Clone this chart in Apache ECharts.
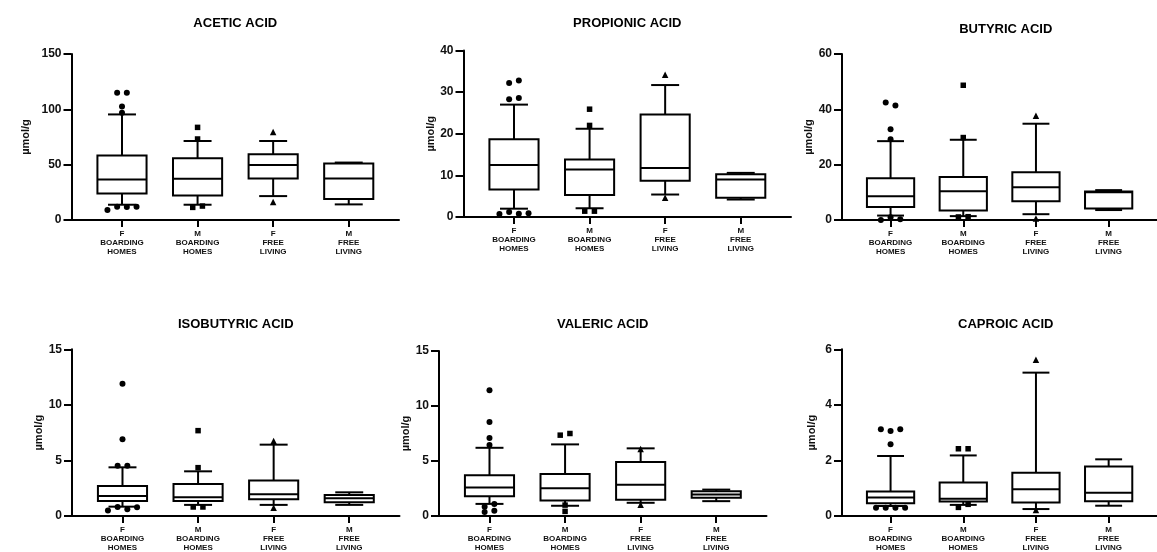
<!DOCTYPE html>
<html><head><meta charset="utf-8">
<script src="https://cdn.jsdelivr.net/npm/echarts@6/dist/echarts.min.js"></script>
<style>html,body{margin:0;padding:0;background:#fff}#c{width:1157px;height:552px}</style>
</head><body><div id="c"></div>
<script>
// ---------- DATA ----------
const categories = ['F\nBOARDING\nHOMES', 'M\nBOARDING\nHOMES', 'F\nFREE\nLIVING', 'M\nFREE\nLIVING'];
const panelTitles = ['ACETIC ACID', 'PROPIONIC ACID', 'BUTYRIC ACID', 'ISOBUTYRIC ACID', 'VALERIC ACID', 'CAPROIC ACID'];
const yAxisMax = [150, 40, 60, 15, 15, 6];
const yAxisInterval = [50, 10, 20, 5, 5, 2];
const yAxisName = 'µmol/g';

// box summaries per group: [min whisker, Q1, median, Q3, max whisker]
const aceticBoxes = [[13.8, 24, 36.6, 58.2, 95.4], [13.8, 22.2, 37.2, 55.8, 71.4], [21.6, 37.5, 49.8, 59.4, 71.4], [14.1, 18.9, 37.5, 51, 51.9]];
const aceticOutliers = [[115, 115, 102.6, 96.8, 9, 12, 11.8, 12], [83.7, 73.2, 11.4, 12.6], [79.5, 16.2], []];

const propionicBoxes = [[2, 6.6, 12.5, 18.7, 27], [2.1, 5.3, 11.4, 13.8, 21.2], [5.4, 8.7, 11.8, 24.6, 31.7], [4.2, 4.6, 9.0, 10.3, 10.6]];
const propionicOutliers = [[32.2, 32.8, 28.3, 28.6, 0.7, 1.2, 0.8, 0.9], [25.9, 22, 1.4, 1.4], [34.2, 4.6], []];

const butyricBoxes = [[1.6, 4.7, 8.6, 15.1, 28.5], [1.4, 3.4, 10.4, 15.5, 29], [2.1, 6.8, 11.8, 17.3, 34.8], [3.6, 4.2, 10.0, 10.3, 10.8]];
const butyricOutliers = [[42.5, 41.4, 32.8, 29.2, 0, 1, 0.3], [48.7, 29.8, 1.1, 1.2], [37.7, 0.5], []];

const isobutyricBoxes = [[0.84, 1.35, 1.8, 2.7, 4.38], [1.0, 1.35, 1.68, 2.88, 4.02], [1.0, 1.5, 1.95, 3.2, 6.42], [1.0, 1.23, 1.6, 1.9, 2.13]];
const isobutyricOutliers = [[11.9, 6.9, 4.53, 4.53, 0.5, 0.81, 0.6, 0.78], [7.68, 4.35, 0.81, 0.81], [6.75, 0.75], []];

const valericBoxes = [[1.1, 1.8, 2.58, 3.7, 6.2], [0.93, 1.41, 2.52, 3.81, 6.51], [1.2, 1.47, 2.85, 4.92, 6.15], [1.35, 1.65, 1.95, 2.25, 2.4]];
const valericOutliers = [[11.43, 8.55, 7.1, 6.45, 0.84, 1.08, 0.36, 0.48], [7.35, 7.5, 0.99, 0.42], [6.1, 1.02], []];

const caproicBoxes = [[0.36, 0.46, 0.67, 0.88, 2.16], [0.4, 0.52, 0.62, 1.21, 2.18], [0.25, 0.49, 0.96, 1.56, 5.16], [0.37, 0.53, 0.84, 1.78, 2.04]];
const caproicOutliers = [[3.12, 3.06, 3.12, 2.58, 0.3, 0.3, 0.3, 0.3], [2.42, 2.42, 0.31, 0.42], [5.62, 0.22], []];

const allBoxes = [aceticBoxes, propionicBoxes, butyricBoxes, isobutyricBoxes, valericBoxes, caproicBoxes];
const allOutliers = [aceticOutliers, propionicOutliers, butyricOutliers, isobutyricOutliers, valericOutliers, caproicOutliers];

// ---------- LAYOUT / STYLE ----------
const FONT = '"Liberation Sans", Arial, Helvetica, sans-serif';
const GRID_W = 327.5;
const X_MIN = -0.668, X_MAX = 3.665;
const BOX_FRAC = 0.65, CAP_FRAC = 0.37;
const JITTER_STEP = 9.7, COLLIDE_PX = 4.5;
const groupSymbols = ['circle', 'rect', 'triangle', 'diamond'];
const groupSymbolSize = [6, 5.5, 6.5, 6];
const layout = [
  { left: 71.5, top: 54,    height: 166,   titleTop: 16.5,  nameGap: 40 },
  { left: 463.5, top: 50.5, height: 166.5, titleTop: 16.5,  nameGap: 27 },
  { left: 842,  top: 54,    height: 166,   titleTop: 22.5,  nameGap: 25 },
  { left: 72,   top: 349.3, height: 166.7, titleTop: 317.5, nameGap: 25 },
  { left: 439,  top: 351,   height: 166.7, titleTop: 317.5, nameGap: 26 },
  { left: 842,  top: 349.3, height: 166.7, titleTop: 317.5, nameGap: 25 }
];

// horizontal spread of outliers that would overlap vertically
function spread(values, pxPerUnit) {
  const order = values.map((v, i) => i).sort((a, b) => values[a] - values[b]);
  const off = new Array(values.length).fill(0);
  let grp = [];
  const flush = () => {
    const g = grp.slice().sort((a, b) => a - b);
    g.forEach((k, j) => { off[k] = (j - (g.length - 1) / 2) * JITTER_STEP; });
    grp = [];
  };
  order.forEach(i => {
    if (grp.length && (values[i] - values[grp[0]]) * pxPerUnit > COLLIDE_PX) flush();
    grp.push(i);
  });
  if (grp.length) flush();
  return off;
}

const option = { animation: false, backgroundColor: '#fff', grid: [], xAxis: [], yAxis: [], series: [], graphic: [] };

panelTitles.forEach((title, k) => {
  const L = layout[k];
  option.grid.push({ left: L.left, top: L.top, width: GRID_W, height: L.height });
  option.xAxis.push({
    type: 'value', gridIndex: k, min: X_MIN, max: X_MAX,
    axisLine: { show: true, onZero: false, lineStyle: { color: '#000', width: 2 } },
    axisTick: { show: true, customValues: [0, 1, 2, 3], length: 7, lineStyle: { color: '#000', width: 2 } },
    axisLabel: { customValues: [0, 1, 2, 3], formatter: v => categories[Math.round(v)], fontSize: 8, fontWeight: 'bold',
      lineHeight: 9, color: '#111', margin: 9, fontFamily: FONT },
    splitLine: { show: false }
  });
  option.yAxis.push({
    type: 'value', gridIndex: k, min: 0, max: yAxisMax[k], interval: yAxisInterval[k],
    name: yAxisName, nameLocation: 'middle', nameGap: L.nameGap, nameRotate: 90,
    nameTextStyle: { fontSize: 11, fontWeight: 'bold', color: '#111', fontFamily: FONT },
    axisLine: { show: true, onZero: false, lineStyle: { color: '#000', width: 2 } },
    axisTick: { show: true, length: 8, lineStyle: { color: '#000', width: 2 } },
    axisLabel: { fontSize: 12, fontWeight: 'bold', color: '#111', margin: 10, fontFamily: FONT },
    splitLine: { show: false }
  });
  option.graphic.push({
    type: 'text', x: L.left + GRID_W / 2, y: L.titleTop,
    style: { text: title, font: 'bold 13px ' + FONT, fill: '#000', align: 'center', verticalAlign: 'top', textAlign: 'center', textVerticalAlign: 'top' }
  });

  const boxData = allBoxes[k].map((b, i) => [i].concat(b));
  option.series.push({
    type: 'custom', xAxisIndex: k, yAxisIndex: k, data: boxData,
    encode: { x: 0, y: [1, 2, 3, 4, 5] },
    renderItem: (params, api) => {
      const i = api.value(0);
      const p = [1, 2, 3, 4, 5].map(d => api.coord([i, api.value(d)]));
      const x = p[0][0];
      const step = api.size([1, 0])[0];
      const hb = step * BOX_FRAC / 2, hc = step * CAP_FRAC / 2;
      const ls = { stroke: '#000', lineWidth: 2, fill: null };
      return { type: 'group', children: [
        { type: 'line', shape: { x1: x, y1: p[0][1], x2: x, y2: p[1][1] }, style: ls },
        { type: 'line', shape: { x1: x, y1: p[3][1], x2: x, y2: p[4][1] }, style: ls },
        { type: 'line', shape: { x1: x - hc, y1: p[0][1], x2: x + hc, y2: p[0][1] }, style: ls },
        { type: 'line', shape: { x1: x - hc, y1: p[4][1], x2: x + hc, y2: p[4][1] }, style: ls },
        { type: 'rect', shape: { x: x - hb, y: p[3][1], width: 2 * hb, height: p[1][1] - p[3][1] }, style: { stroke: '#000', lineWidth: 2, fill: '#fff' } },
        { type: 'line', shape: { x1: x - hb, y1: p[2][1], x2: x + hb, y2: p[2][1] }, style: ls }
      ] };
    }
  });

  const pxPerUnit = L.height / yAxisMax[k];
  const pts = [];
  allOutliers[k].forEach((vals, i) => {
    const off = spread(vals, pxPerUnit);
    vals.forEach((v, j) => pts.push({ value: [i, v], symbol: groupSymbols[i], symbolSize: groupSymbolSize[i], symbolOffset: [off[j], 0] }));
  });
  option.series.push({
    type: 'scatter', xAxisIndex: k, yAxisIndex: k, data: pts, clip: false, z: 5,
    itemStyle: { color: '#000', opacity: 1 }
  });
});

const chart = echarts.init(document.getElementById('c'), null, { renderer: 'canvas' });
chart.setOption(option);
</script>
</body></html>
